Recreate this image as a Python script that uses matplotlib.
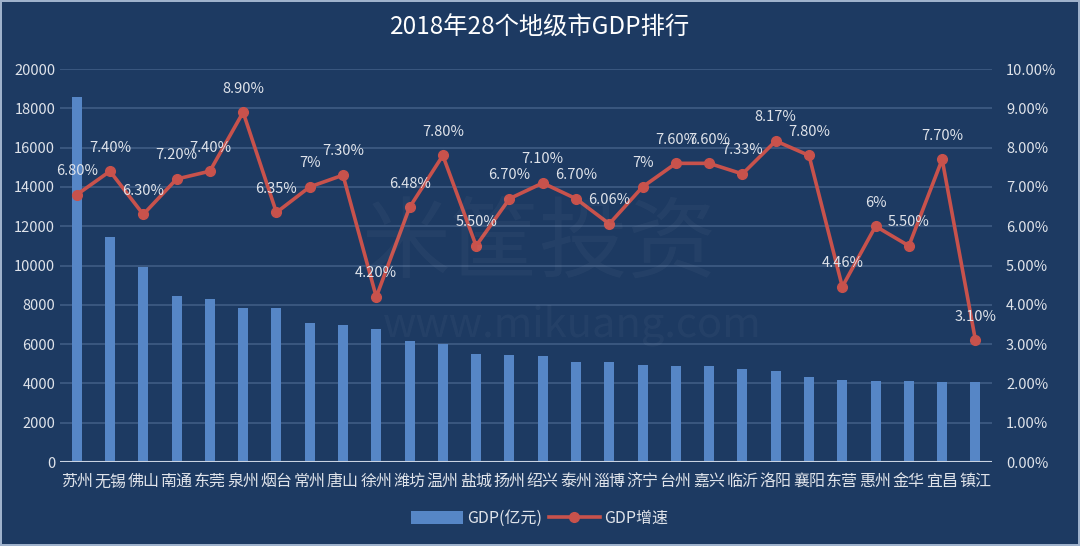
import matplotlib.pyplot as plt
from matplotlib.ticker import FuncFormatter

plt.rcParams['font.family'] = ['Noto Sans CJK SC', 'DejaVu Sans']

cities = ['苏州', '无锡', '佛山', '南通', '东莞', '泉州', '烟台', '常州', '唐山', '徐州',
          '潍坊', '温州', '盐城', '扬州', '绍兴', '泰州', '淄博', '济宁', '台州', '嘉兴',
          '临沂', '洛阳', '襄阳', '东营', '惠州', '金华', '宜昌', '镇江']
gdp = [18597, 11438, 9935, 8427, 8278, 7858, 7832, 7050, 6955, 6755,
       6157, 6006, 5487, 5466, 5417, 5108, 5068, 4931, 4875, 4872,
       4718, 4641, 4310, 4152, 4103, 4100, 4064, 4050]
growth = [6.80, 7.40, 6.30, 7.20, 7.40, 8.90, 6.35, 7.00, 7.30, 4.20,
          6.48, 7.80, 5.50, 6.70, 7.10, 6.70, 6.06, 7.00, 7.60, 7.60,
          7.33, 8.17, 7.80, 4.46, 6.00, 5.50, 7.70, 3.10]
growth_labels = ['6.80%', '7.40%', '6.30%', '7.20%', '7.40%', '8.90%', '6.35%', '7%', '7.30%', '4.20%',
                 '6.48%', '7.80%', '5.50%', '6.70%', '7.10%', '6.70%', '6.06%', '7%', '7.60%', '7.60%',
                 '7.33%', '8.17%', '7.80%', '4.46%', '6%', '5.50%', '7.70%', '3.10%']

bg = '#1d3a62'
txt = '#dfe3ea'
grid = '#3f5c84'
bar_c = '#5686c6'
line_c = '#c8524c'

fig = plt.figure(figsize=(10.8, 5.46), dpi=100, facecolor=bg)
fig.patch.set_edgecolor('#9fb2cc')
fig.patch.set_linewidth(1.5)
ax = fig.add_axes([0.0556, 0.1538, 0.863, 0.7198])
ax.set_facecolor(bg)

# faint watermark
fig.text(0.50, 0.55, '米筐投资', fontsize=64, color='white', alpha=0.035,
         ha='center', va='center')
fig.text(0.53, 0.405, 'www.mikuang.com', fontsize=30, color='white', alpha=0.035,
         ha='center', va='center')

x = list(range(len(cities)))
bars = ax.bar(x, gdp, width=0.3, color=bar_c, label='GDP(亿元)', zorder=2)
ax.set_ylim(0, 20000)
ax.set_xlim(-0.5, len(cities) - 0.5)
ax.set_yticks(range(0, 20001, 2000))
ax.grid(axis='y', color=grid, linewidth=1.2, zorder=0)
ax.set_axisbelow(True)
for s in ax.spines.values():
    s.set_visible(False)
ax.axhline(0, color='#c9d3e2', linewidth=1.5, zorder=3)
ax.tick_params(axis='both', length=0, colors=txt, labelsize=10.5)
ax.tick_params(axis='x', labelsize=11.5, pad=8)
ax.set_xticks(x)
ax.set_xticklabels(cities)

ax2 = ax.twinx()
ax2.set_ylim(0, 10)
ax2.set_yticks(range(0, 11))
ax2.yaxis.set_major_formatter(FuncFormatter(lambda v, p: f'{v:.2f}%'))
for s in ax2.spines.values():
    s.set_visible(False)
ax2.tick_params(axis='y', length=0, colors=txt, labelsize=10.5, pad=10)
ln, = ax2.plot(x, growth, '-o', color=line_c, linewidth=2.6, markersize=7,
               label='GDP增速', zorder=4)
for xi, g, lab in zip(x, growth, growth_labels):
    ax2.annotate(lab, (xi, g), xytext=(0, 12), textcoords='offset points',
                 ha='center', va='bottom', color=txt, fontsize=10.5, zorder=5)

fig.text(0.5, 0.95, '2018年28个地级市GDP排行', ha='center', va='center',
         color='white', fontsize=17.5)

leg = fig.legend([bars, ln], ['GDP(亿元)', 'GDP增速'], loc='center',
                 bbox_to_anchor=(0.5, 0.05), ncol=2, frameon=False,
                 fontsize=11.5, handlelength=3.2, handleheight=0.9,
                 columnspacing=0.4, handletextpad=0.3)
for t in leg.get_texts():
    t.set_color(txt)

fig.savefig('out.png', dpi=100, facecolor=bg, edgecolor='#9fb2cc')
